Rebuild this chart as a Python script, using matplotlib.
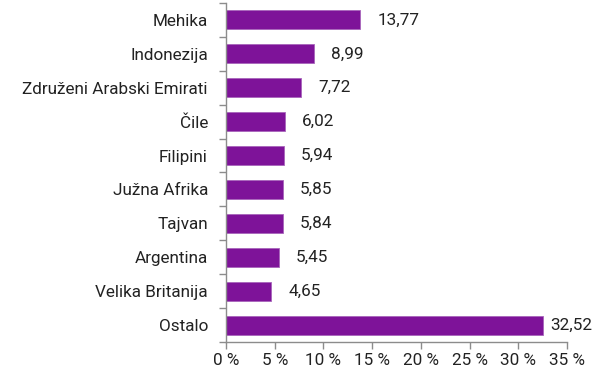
import matplotlib.pyplot as plt
import numpy as np

# share by country, %
countries = ["Mehika", "Indonezija", "Združeni Arabski Emirati", "Čile", "Filipini",
             "Južna Afrika", "Tajvan", "Argentina", "Velika Britanija", "Ostalo"]
shares = [13.77, 8.99, 7.72, 6.02, 5.94, 5.85, 5.84, 5.45, 4.65, 32.52]
xticks = [0, 5, 10, 15, 20, 25, 30, 35]

plt.rcParams['font.family'] = ['Roboto', 'DejaVu Sans']
fs = 12.3

fig = plt.figure(figsize=(5.92, 3.69), dpi=100)
ax = fig.add_axes([0.3818, 0.0732, 0.5760, 0.9187])

purple = "#7e1399"
gray = "#8c8c8c"

y = np.arange(len(countries))
ax.barh(y, shares, height=0.56, color=purple, edgecolor="#a865bb", linewidth=0.6)

# value labels, pulled in a bit when they would run off the right edge
for yi, v in zip(y, shares):
    ax.text(min(v + 1.75, 33.25), yi, f"{v:.2f}".replace(".", ","), va="center",
            ha="left", fontsize=fs, color="#222222")

ax.set_ylim(len(countries) - 0.5, -0.5)
ax.set_xlim(0, 35)

ax.set_yticks(y)
ax.set_yticklabels(countries, fontsize=fs, color="#222222")
ax.set_yticks(np.arange(len(countries) + 1) - 0.5, minor=True)
ax.tick_params(axis="y", which="major", length=0, pad=13)
ax.tick_params(axis="y", which="minor", length=5, color=gray, width=1)

ax.set_xticks(xticks)
ax.set_xticklabels([f"{t} %" for t in xticks], fontsize=fs, color="#222222")
ax.tick_params(axis="x", length=5, color=gray, width=1, pad=3)

for side in ["top", "right"]:
    ax.spines[side].set_visible(False)
for side in ["left", "bottom"]:
    ax.spines[side].set_color(gray)
    ax.spines[side].set_linewidth(1)

fig.savefig("out.png", dpi=100)
